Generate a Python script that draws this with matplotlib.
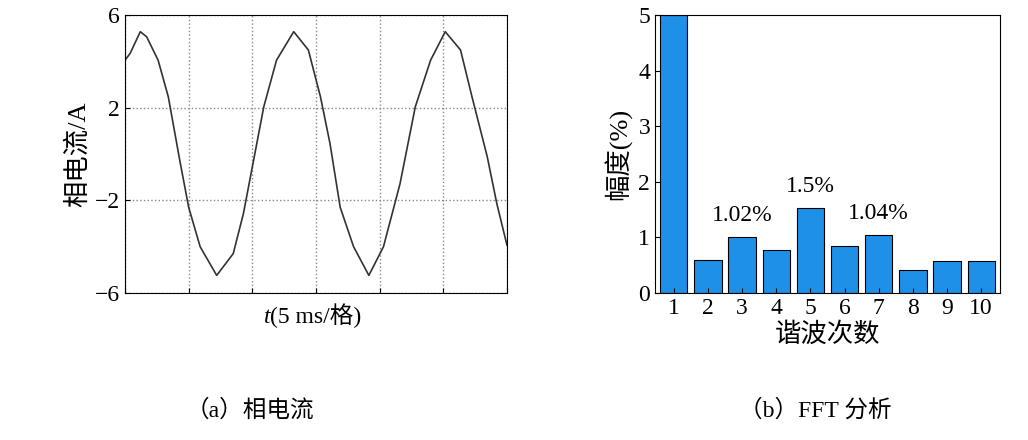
import matplotlib
matplotlib.use("Agg")
import matplotlib.pyplot as plt

plt.rcParams['font.family'] = ['Liberation Serif', 'Noto Sans CJK SC']
plt.rcParams['font.size'] = 17
plt.rcParams['xtick.direction'] = 'in'
plt.rcParams['ytick.direction'] = 'in'

# phase current waveform, x in grid divisions (5 ms each)
t_div = [0, 0.08, 0.24, 0.34, 0.52, 0.68, 0.86, 1.0, 1.18, 1.44, 1.70, 1.86,
         2.02, 2.18, 2.38, 2.65, 2.88, 3.07, 3.22, 3.38, 3.59, 3.83, 4.06,
         4.32, 4.56, 4.80, 5.03, 5.27, 5.45, 5.69, 5.84, 6.0]
i_a = [4.05, 4.34, 5.28, 5.06, 4.05, 2.47, -0.27, -2.3, -4.0, -5.24, -4.3,
       -2.57, -0.27, 2.04, 4.05, 5.28, 4.49, 2.47, 0.45, -2.3, -4.0, -5.24,
       -4.0, -1.28, 2.04, 4.05, 5.28, 4.49, 2.47, -0.12, -2.14, -3.94]

# FFT harmonics
orders = [1, 2, 3, 4, 5, 6, 7, 8, 9, 10]
amp_pct = [5.0, 0.6, 1.0, 0.78, 1.52, 0.85, 1.04, 0.42, 0.58, 0.58]
notes = [(3, "1.02%"), (5, "1.5%"), (7, "1.04%")]

fig = plt.figure(figsize=(10.28, 4.4), dpi=100)

axL = fig.add_axes([125 / 1028, 147 / 440, 382 / 1028, 278 / 440])
axL.plot(t_div, i_a, color="#333333", lw=1.2)
axL.set_xlim(0, 6)
axL.set_ylim(-6, 6)
axL.set_xticks(range(7))
axL.set_xticklabels([])
axL.set_yticks([-6, -2, 2, 6])
axL.set_yticklabels(["\u22126", "\u22122", "2", "6"])
axL.grid(True, ls=":", color="#888888", lw=1)
axL.set_ylabel("相电流/A", fontsize=19)
axL.set_xlabel("(5 ms/格)", labelpad=4)
axL.annotate("t", xy=(0, 0), xycoords=axL.xaxis.label, ha="right", va="bottom",
             style="italic", fontsize=17)

axR = fig.add_axes([655 / 1028, 147 / 440, 345 / 1028, 278 / 440])
axR.bar(orders, amp_pct, width=0.8, color="#1E90E8", edgecolor="black", lw=0.8)
axR.set_xlim(0.45, 10.55)
axR.set_ylim(0, 5)
axR.set_xticks(orders)
axR.set_yticks(range(6))
axR.set_ylabel("幅度(%)", fontsize=19)
axR.set_xlabel("谐波次数", labelpad=2, fontsize=19)
for k, s in notes:
    axR.text(k, amp_pct[k - 1] + 0.2, s, ha="center", va="bottom", fontsize=17)

fig.text(250 / 1028, 30 / 440, "（a）相电流", ha="center", va="center", fontsize=17)
fig.text(815 / 1028, 30 / 440, "（b）FFT 分析", ha="center", va="center", fontsize=17)

fig.savefig("out.png", dpi=100)
